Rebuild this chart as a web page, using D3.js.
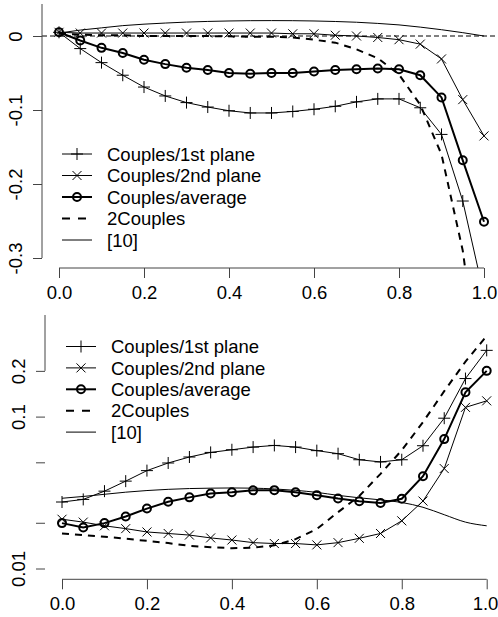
<!DOCTYPE html>
<html>
<head>
<meta charset="utf-8">
<script src="https://cdn.jsdelivr.net/npm/d3@7"></script>
<style>
  body { margin: 0; background: #fff; }
  svg text { font-family: "Liberation Sans", Arial, Helvetica, sans-serif; }
</style>
</head>
<body>
<div id="chart"></div>
<script>
// abscissa shared by every series
const xs = [0, 0.05, 0.1, 0.15, 0.2, 0.25, 0.3, 0.35, 0.4, 0.45, 0.5,
            0.55, 0.6, 0.65, 0.7, 0.75, 0.8, 0.85, 0.9, 0.95, 1.0];

// top panel (linear)
const topFirst = [0.005, -0.017, -0.036, -0.053, -0.069, -0.081, -0.090, -0.096, -0.101, -0.104, -0.104,
                  -0.102, -0.099, -0.095, -0.089, -0.085, -0.085, -0.097, -0.133, -0.223, -0.350];
const topSecond = [0.005, 0.004, 0.004, 0.004, 0.004, 0.004, 0.004, 0.004, 0.004, 0.004, 0.004,
                   0.003, 0.003, 0.001, 0.0, -0.002, -0.005, -0.011, -0.031, -0.086, -0.135];
const topAvg = [0.005, -0.006, -0.016, -0.023, -0.032, -0.038, -0.043, -0.046, -0.050, -0.051, -0.050,
                -0.050, -0.048, -0.046, -0.045, -0.044, -0.045, -0.053, -0.083, -0.168, -0.251];
const top2Couples = [0.003, 0.002, 0.001, 0.001, 0.0, 0.0, 0.0, 0.0, -0.0005, -0.001, -0.001,
                     -0.002, -0.005, -0.009, -0.018, -0.030, -0.052, -0.093, -0.160, -0.290, -0.500];
const topRef10 = [0.004, 0.008, 0.011, 0.014, 0.016, 0.0175, 0.0188, 0.0197, 0.0203, 0.0207, 0.0208,
                  0.0207, 0.0203, 0.0196, 0.0186, 0.0170, 0.0150, 0.0120, 0.0085, 0.0045, 0.0];

// bottom panel (log)
const botFirst = [0.0274, 0.0285, 0.0323, 0.0376, 0.0441, 0.0495, 0.0542, 0.0581, 0.0605, 0.0630, 0.0646,
                  0.0630, 0.0597, 0.0570, 0.0520, 0.0503, 0.0520, 0.0643, 0.0976, 0.178, 0.273];
const botSecond = [0.0211, 0.0202, 0.0191, 0.0183, 0.0174, 0.0170, 0.0166, 0.0159, 0.0154, 0.0148, 0.0146,
                   0.0146, 0.0143, 0.0148, 0.0158, 0.0170, 0.0206, 0.0278, 0.0455, 0.115, 0.127];
const botAvg = [0.0199, 0.0186, 0.0199, 0.0220, 0.0248, 0.0275, 0.0294, 0.0312, 0.0318, 0.0327, 0.0328,
                0.0318, 0.0304, 0.0289, 0.0277, 0.0270, 0.0288, 0.0405, 0.0711, 0.1445, 0.200];
const bot2Couples = [0.0170, 0.0166, 0.0162, 0.0157, 0.0152, 0.0147, 0.0141, 0.0138, 0.0136, 0.0137, 0.0142,
                     0.0156, 0.0182, 0.0235, 0.030, 0.042, 0.060, 0.092, 0.147, 0.23, 0.34];
const botRef10 = [0.0290, 0.0298, 0.0308, 0.0318, 0.0326, 0.0332, 0.0336, 0.0338, 0.0339, 0.0338, 0.0334,
                  0.0327, 0.0317, 0.0303, 0.0292, 0.0283, 0.0272, 0.0253, 0.0226, 0.0202, 0.0191];

const legendLabels = ["Couples/1st plane", "Couples/2nd plane", "Couples/average", "2Couples", "[10]"];
const xTicks = [0, 0.2, 0.4, 0.6, 0.8, 1.0];
const topYTicks = [0, -0.1, -0.2, -0.3];
const botYTicks = [0.01, 0.02, 0.05, 0.1, 0.2];
const botYLabels = { 0.01: "0.01", 0.1: "0.1", 0.2: "0.2" };

const W = 498, H = 617;
const FONT = 18.5;
const axisColor = "#444";

const svg = d3.select("#chart").append("svg")
  .attr("width", W).attr("height", H);

// marker shapes
const plusPath = "M-6,0H6M0,-6V6";
const crossPath = "M-4.5,-4.5L4.5,4.5M-4.5,4.5L4.5,-4.5";

// how each series is drawn
const styles = [
  { marker: "plus",   width: 1,   dash: null },
  { marker: "cross",  width: 1,   dash: null },
  { marker: "circle", width: 2,   dash: null },
  { marker: null,     width: 2,   dash: "7,6" },
  { marker: null,     width: 1,   dash: null, smooth: true }
];

function drawMarker(g, kind, cx, cy) {
  if (kind === "plus") {
    g.append("path").attr("d", plusPath).attr("transform", `translate(${cx},${cy})`)
      .attr("stroke", "#000").attr("stroke-width", 1).attr("fill", "none");
  } else if (kind === "cross") {
    g.append("path").attr("d", crossPath).attr("transform", `translate(${cx},${cy})`)
      .attr("stroke", "#000").attr("stroke-width", 1).attr("fill", "none");
  } else if (kind === "circle") {
    g.append("circle").attr("cx", cx).attr("cy", cy).attr("r", 4)
      .attr("stroke", "#000").attr("stroke-width", 2).attr("fill", "none");
  }
}

function panel(opt) {
  const { x, y, series, clip, yTicks, yLabel, yAxisTop, legend, id, hline } = opt;
  const root = svg.append("g");

  svg.append("clipPath").attr("id", id)
    .append("rect").attr("x", clip[0]).attr("y", clip[1])
    .attr("width", clip[2] - clip[0]).attr("height", clip[3] - clip[1]);

  const plot = root.append("g").attr("clip-path", `url(#${id})`);

  if (hline !== undefined) {
    plot.append("line")
      .attr("x1", clip[0]).attr("x2", clip[2])
      .attr("y1", y(hline)).attr("y2", y(hline))
      .attr("stroke", "#000").attr("stroke-width", 1)
      .attr("stroke-dasharray", "5,3");
  }

  series.forEach((vals, i) => {
    const st = styles[i];
    const pts = xs.map((d, k) => [d, vals[k]]);
    const line = d3.line()
      .x(d => x(d[0])).y(d => y(d[1]))
      .curve(st.smooth ? d3.curveMonotoneX : d3.curveLinear);
    plot.append("path")
      .datum(pts)
      .attr("d", line)
      .attr("fill", "none")
      .attr("stroke", "#000")
      .attr("stroke-width", st.width)
      .attr("stroke-dasharray", st.dash);
    if (st.marker) {
      const mg = plot.append("g");
      pts.forEach(p => drawMarker(mg, st.marker, x(p[0]), y(p[1])));
    }
  });

  // x axis
  const xAxisY = clip[3];
  const gx = root.append("g")
    .attr("transform", `translate(0,${xAxisY})`)
    .call(d3.axisBottom(x).tickValues(xTicks).tickFormat(d3.format(".1f"))
      .tickSize(10).tickPadding(8))
    .attr("font-size", FONT)
    .attr("font-family", null);
  gx.select(".domain").remove();
  gx.selectAll(".tick line").attr("stroke", axisColor);
  gx.selectAll(".tick text").attr("fill", "#000");
  // keep the last label inside the page
  gx.selectAll(".tick text")
    .filter(d => x(d) + 13 > W)
    .attr("x", d => W - 13 - x(d));
  gx.append("line")
    .attr("x1", x(0)).attr("x2", x(1))
    .attr("stroke", axisColor);

  // y axis
  const yAxisX = clip[0];
  const gy = root.append("g")
    .attr("transform", `translate(${yAxisX},0)`)
    .call(d3.axisLeft(y).tickValues(yTicks).tickFormat(yLabel).tickSize(9))
    .attr("font-size", FONT)
    .attr("font-family", null);
  gy.select(".domain").remove();
  gy.selectAll(".tick line").attr("stroke", axisColor);
  gy.selectAll(".tick text")
    .attr("fill", "#000")
    .attr("x", null).attr("dy", null)
    .attr("y", -20)
    .attr("text-anchor", "middle")
    .attr("transform", "rotate(-90)");
  gy.append("line")
    .attr("y1", y(yTicks[yTicks.length - 1])).attr("y2", yAxisTop)
    .attr("stroke", axisColor);

  // legend
  const lg = root.append("g");
  legendLabels.forEach((lab, i) => {
    const st = styles[i];
    const ly = legend.y + i * legend.dy;
    lg.append("line")
      .attr("x1", legend.x).attr("x2", legend.x + 30)
      .attr("y1", ly).attr("y2", ly)
      .attr("stroke", "#000").attr("stroke-width", st.width)
      .attr("stroke-dasharray", st.dash ? "8,8" : null);
    if (st.marker) drawMarker(lg, st.marker, legend.x + 15, ly);
    lg.append("text")
      .attr("x", legend.x + 45).attr("y", ly)
      .attr("dy", "0.36em")
      .attr("font-size", FONT)
      .text(lab);
  });
}

// top panel scales
const xTop = d3.scaleLinear().domain([0, 1]).range([59, 484]);
const yTop = d3.scaleLinear().domain([-0.3, 0]).range([258, 36]);

panel({
  id: "clipTop",
  x: xTop, y: yTop,
  series: [topFirst, topSecond, topAvg, top2Couples, topRef10],
  clip: [42, -2, 502, 268],
  yTicks: topYTicks,
  yLabel: d => d === 0 ? "0" : d3.format(".1f")(d).replace("−", "-"),
  yAxisTop: 4,
  hline: 0,
  legend: { x: 62, y: 154, dy: 21.5 }
});

// bottom panel scales
const xBot = d3.scaleLinear().domain([0, 1]).range([62, 486.7]);
const yBot = d3.scaleLog().domain([0.01, 0.1]).range([568.5, 416.6]);

panel({
  id: "clipBot",
  x: xBot, y: yBot,
  series: [botFirst, botSecond, botAvg, bot2Couples, botRef10],
  clip: [45, 300, 505, 579.3],
  yTicks: botYTicks,
  yLabel: d => botYLabels[d] || "",
  yAxisTop: 315,
  legend: { x: 66, y: 346.5, dy: 21.4 }
});
</script>
</body>
</html>
